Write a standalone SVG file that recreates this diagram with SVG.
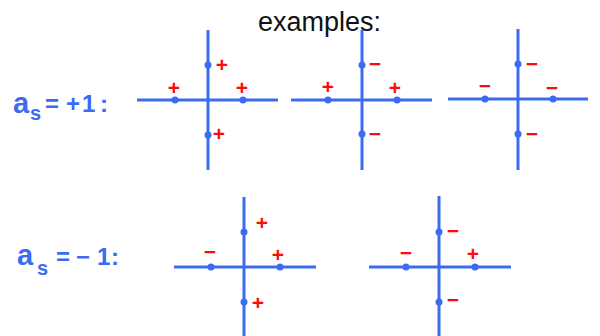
<svg xmlns="http://www.w3.org/2000/svg" width="600" height="336" viewBox="0 0 600 336">
<style>
.ax{stroke:#3a6cf2;stroke-width:3;stroke-linecap:butt;fill:none}
.dot{fill:#3a6cf2}
.sg{fill:#ff0a0a;font-family:"Liberation Sans",Arial,sans-serif;font-size:21px;font-weight:bold;text-anchor:middle}
.lbl{fill:#3a6cf2;font-family:"Liberation Sans",Arial,sans-serif;font-size:24px;font-weight:bold}
.a{font-size:29px}
.sub{font-size:20px}
.title{fill:#111;font-family:"Liberation Sans",Arial,sans-serif;font-size:27px}
</style>
<rect width="600" height="336" fill="#fff"/>
<text class="title" x="258" y="31">examples:</text>
<g id="label-plus">
<text class="lbl" y="113"><tspan class="a" x="13">a</tspan><tspan class="sub" x="30" y="120">s</tspan><tspan x="45" y="112">=</tspan><tspan x="66">+</tspan><tspan x="82">1</tspan><tspan x="100">:</tspan></text>
</g>
<g id="label-minus">
<text class="lbl" y="265"><tspan class="a" x="17">a</tspan><tspan class="sub" x="37" y="275">s</tspan><tspan x="56" y="265">=</tspan><tspan x="76">−</tspan><tspan x="97">1</tspan><tspan x="111">:</tspan></text>
</g>
<g id="cross1">
<line class="ax" x1="208" y1="30" x2="208" y2="170"/>
<line class="ax" x1="137" y1="100" x2="278" y2="100"/>
<circle class="dot" cx="208" cy="65" r="3.5"/><circle class="dot" cx="208" cy="135" r="3.5"/>
<circle class="dot" cx="175" cy="100" r="3.5"/><circle class="dot" cx="243" cy="100" r="3.5"/>
<text class="sg" x="222" y="72">+</text><text class="sg" x="174" y="95">+</text>
<text class="sg" x="242" y="95">+</text><text class="sg" x="219" y="141">+</text>
</g>
<g id="cross2">
<line class="ax" x1="362" y1="30" x2="362" y2="170"/>
<line class="ax" x1="291" y1="100" x2="432" y2="100"/>
<circle class="dot" cx="362" cy="65" r="3.5"/><circle class="dot" cx="362" cy="134" r="3.5"/>
<circle class="dot" cx="328" cy="100" r="3.5"/><circle class="dot" cx="397" cy="100" r="3.5"/>
<text class="sg" x="375" y="71">−</text><text class="sg" x="328" y="94">+</text>
<text class="sg" x="395" y="95">+</text><text class="sg" x="375" y="141">−</text>
</g>
<g id="cross3">
<line class="ax" x1="518" y1="29" x2="518" y2="170"/>
<line class="ax" x1="448" y1="99" x2="588" y2="99"/>
<circle class="dot" cx="518" cy="64" r="3.5"/><circle class="dot" cx="518" cy="134" r="3.5"/>
<circle class="dot" cx="485" cy="99" r="3.5"/><circle class="dot" cx="553" cy="99" r="3.5"/>
<text class="sg" x="532" y="71">−</text><text class="sg" x="485" y="93">−</text>
<text class="sg" x="552" y="95">−</text><text class="sg" x="532" y="141">−</text>
</g>
<g id="cross4">
<line class="ax" x1="244" y1="197" x2="244" y2="336"/>
<line class="ax" x1="174" y1="267" x2="316" y2="267"/>
<circle class="dot" cx="244" cy="232" r="3.5"/><circle class="dot" cx="244" cy="302" r="3.5"/>
<circle class="dot" cx="211" cy="267" r="3.5"/><circle class="dot" cx="280" cy="267" r="3.5"/>
<text class="sg" x="262" y="230">+</text><text class="sg" x="210" y="259">−</text>
<text class="sg" x="278" y="262">+</text><text class="sg" x="258" y="310">+</text>
</g>
<g id="cross5">
<line class="ax" x1="439" y1="196" x2="439" y2="336"/>
<line class="ax" x1="369" y1="267" x2="511" y2="267"/>
<circle class="dot" cx="439" cy="232" r="3.5"/><circle class="dot" cx="439" cy="302" r="3.5"/>
<circle class="dot" cx="406" cy="267" r="3.5"/><circle class="dot" cx="475" cy="267" r="3.5"/>
<text class="sg" x="453" y="238">−</text><text class="sg" x="406" y="260">−</text>
<text class="sg" x="473" y="261">+</text><text class="sg" x="453" y="307">−</text>
</g>
<g id="connectors"></g>
</svg>
